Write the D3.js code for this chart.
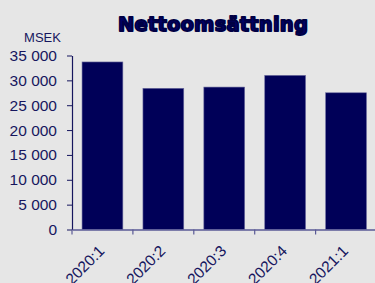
<!DOCTYPE html>
<html>
<head>
<meta charset="utf-8">
<script src="https://cdn.jsdelivr.net/npm/d3@7"></script>
<style>
  body { margin: 0; background: #e6e6e6; }
  svg { display: block; }
</style>
</head>
<body>
<div id="chart"></div>
<script>
// data
var categories = ["2020:1", "2020:2", "2020:3", "2020:4", "2021:1"];
var values = [33700, 28400, 28650, 31000, 27500];
var yTicks = [0, 5000, 10000, 15000, 20000, 25000, 30000, 35000];

var W = 375, H = 283;
var navy = "#000058";
var ink = "#16165e";

var svg = d3.select("#chart").append("svg")
    .attr("width", W)
    .attr("height", H);

svg.append("rect").attr("width", W).attr("height", H).attr("fill", "#e6e6e6");

// scales
var x = d3.scaleBand()
    .domain(categories)
    .range([72, 376.5])
    .paddingInner(0.33)
    .paddingOuter(0.165);

var y = d3.scaleLinear()
    .domain([0, 35000])
    .range([229.5, 55.5]);

var fmt = function (d) {
    return d3.format(",")(d).replace(/,/g, " ");
};

// bars
svg.selectAll("rect.bar").data(values).enter().append("rect")
    .attr("class", "bar")
    .attr("x", function (d, i) { return x(categories[i]); })
    .attr("y", function (d) { return y(d); })
    .attr("width", x.bandwidth())
    .attr("height", function (d) { return y(0) - y(d); })
    .attr("fill", navy)
    .attr("stroke", "#6a6a9e")
    .attr("stroke-width", 0.6);

// y axis
var yAxis = svg.append("g")
    .attr("transform", "translate(72,0)")
    .call(d3.axisLeft(y).tickValues(yTicks).tickFormat(fmt).tickSize(5).tickPadding(10).tickSizeOuter(0));

yAxis.select(".domain").attr("stroke", ink).attr("stroke-width", 1.2);
yAxis.selectAll(".tick line").attr("stroke", ink);
yAxis.selectAll(".tick text")
    .attr("fill", ink)
    .style("font-family", "'Liberation Sans', Arial, sans-serif")
    .style("font-size", "15.5px");

// x axis
var xAxis = svg.append("g")
    .attr("transform", "translate(0,229.5)")
    .call(d3.axisBottom(x).tickSize(0).tickSizeOuter(0));

xAxis.select(".domain").attr("stroke", "#5a5a96").attr("stroke-width", 1.5);
xAxis.selectAll(".tick text").remove();

// tick marks at band edges
xAxis.selectAll("line.edge").data(categories).enter().append("line")
    .attr("class", "edge")
    .attr("x1", function (d) { return x(d) - x.step() * x.paddingOuter(); })
    .attr("x2", function (d) { return x(d) - x.step() * x.paddingOuter(); })
    .attr("y1", 0)
    .attr("y2", 5)
    .attr("stroke", "#5a5a96")
    .attr("stroke-width", 1.2);

// rotated labels (cut by the bottom edge, as in the source)
svg.selectAll("text.xlab").data(categories).enter().append("text")
    .attr("class", "xlab")
    .attr("transform", function (d) {
        return "translate(" + (x(d) + x.bandwidth() / 2 + 3) + ",252) rotate(-45)";
    })
    .attr("text-anchor", "end")
    .attr("fill", ink)
    .style("font-family", "'Liberation Sans', Arial, sans-serif")
    .style("font-size", "15.5px")
    .text(function (d) { return d; });

// unit label
svg.append("text")
    .attr("x", 42.5)
    .attr("y", 41.5)
    .attr("text-anchor", "middle")
    .attr("fill", ink)
    .style("font-family", "'Liberation Sans', Arial, sans-serif")
    .style("font-size", "13px")
    .text("MSEK");

// title
svg.append("text")
    .attr("x", 213)
    .attr("y", 31)
    .attr("text-anchor", "middle")
    .attr("fill", "#000066")
    .attr("stroke", "#000044")
    .attr("stroke-width", 1.8)
    .attr("stroke-linejoin", "round")
    .style("font-family", "'DejaVu Sans', sans-serif")
    .style("font-weight", "bold")
    .style("font-size", "19.5px")
    .style("letter-spacing", "0.2px")
    .text("Nettoomsättning");
</script>
</body>
</html>
